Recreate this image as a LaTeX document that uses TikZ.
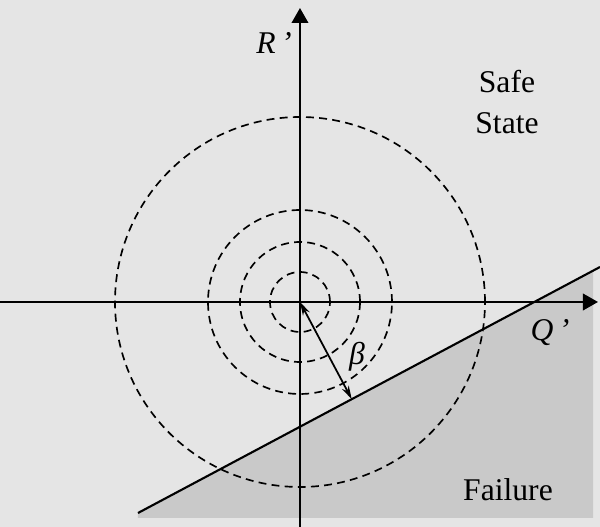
\documentclass[tikz,border=0pt]{standalone}
\usepackage{fontspec}
\setmainfont{Liberation Serif}
\usepackage{xcolor}
\usetikzlibrary{arrows.meta, calc, positioning}

\definecolor{paper}{gray}{0.9}
\definecolor{failgray}{gray}{0.79}

\begin{document}
\begin{tikzpicture}[x=0.02cm, y=0.02cm,
  axis/.style={line width=1.2pt, -{Triangle[length=0.3cm, width=0.33cm]}},
  ring/.style={dashed, dash pattern=on 4.5pt off 3pt, line width=0.95pt},
  label/.style={font=\fontsize{18}{23}\selectfont, align=center, inner sep=1pt}]

% background
\fill[paper] (-300,-225) rectangle (300,302);
\useasboundingbox (-300,-225) rectangle (300,302);

% limit state line and failure region
\coordinate (O) at (0,0);
\coordinate (l1) at (-162,-211);
\coordinate (l2) at (300,35);
\coordinate (foot) at ($(l1)!(O)!(l2)$);
\fill[failgray] (l1) -- ($(l1)!0.985!(l2)$) |- (-162,-216) -- cycle;

% circles
\foreach \r in {30, 60, 92, 185}
  \draw[ring] (O) circle[radius=\r];

% axes
\coordinate (xs) at (-300,0);
\coordinate (xe) at (298,0);
\coordinate (ys) at (0,-225);
\coordinate (ye) at (0,294);
\draw[axis] (xs) -- (xe);
\draw[axis] (ys) -- (ye);

\draw[line width=1.2pt] (l1) -- (l2);

% reliability index
\draw[line width=1pt, {Stealth[length=0.27cm, width=0.15cm]}-{Stealth[length=0.27cm, width=0.15cm]}] (O) -- (foot)
  node[pos=0.56, right=10pt, label] (beta) {\textit{β}};

% labels
\node[label] (rlab) at (-26,259) {\textit{R\,’}};
\node[label] (qlab) at (250,-31) {\textit{Q\,’}};
\node[label] (safe) at (207,200) {Safe\\State};
\node[label] (fail) at (208,-188) {Failure};

\end{tikzpicture}
\end{document}
